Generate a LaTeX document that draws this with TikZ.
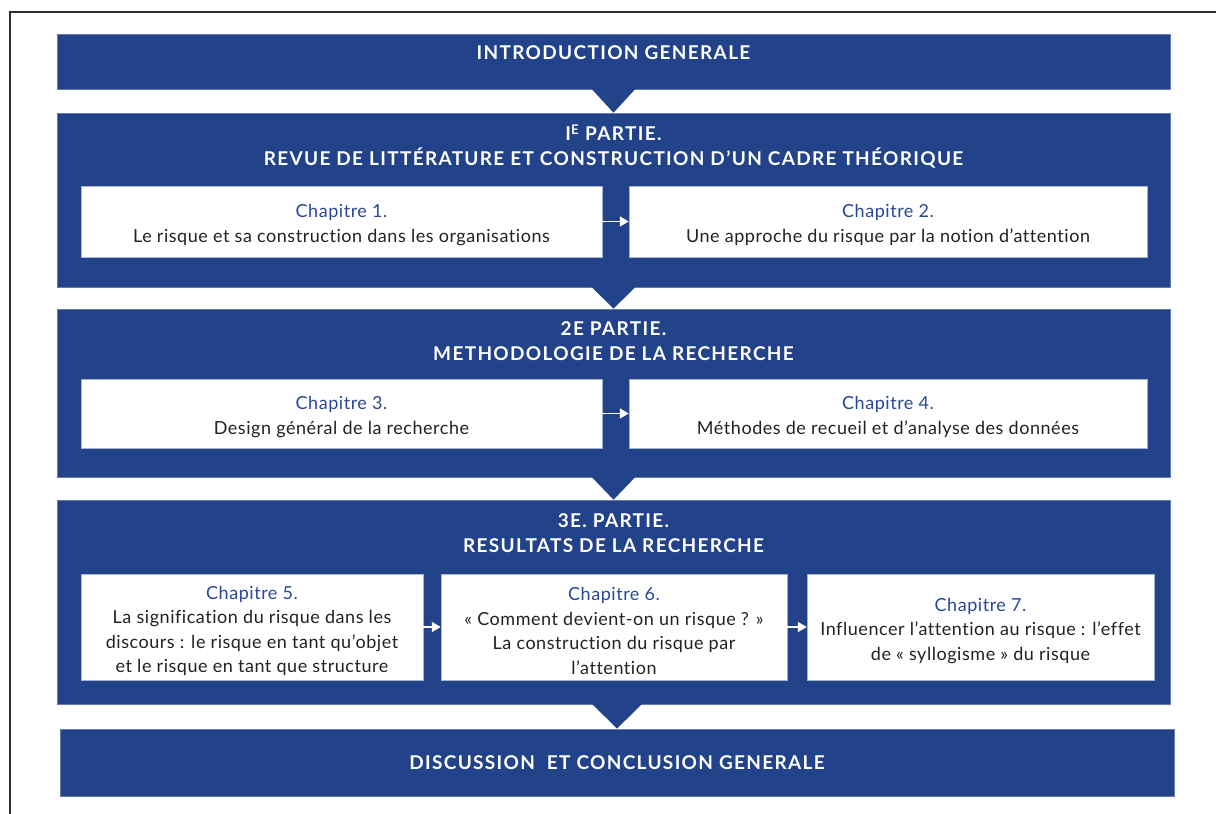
\documentclass[tikz,border=0pt]{standalone}
\usepackage{fontspec}
\setmainfont{Lato}[Ligatures=NoCommon]
\usetikzlibrary{arrows.meta,calc}
\definecolor{dblue}{RGB}{34,67,138}
\definecolor{cblue}{RGB}{42,72,152}
\definecolor{ctext}{RGB}{34,34,34}
\definecolor{frame}{RGB}{45,45,45}
\tikzset{
  bluebox/.style={fill=dblue, draw=dblue!70!white, line width=0.6pt, inner sep=0pt, anchor=center},
  chapbox/.style={fill=white, draw=dblue!40!white, line width=0.5pt, inner sep=0pt, anchor=center},
  chaptext/.style={align=center, text=ctext, inner sep=0pt, anchor=center,
    font=\fontsize{18}{24.5}\selectfont\addfontfeatures{LetterSpace=3}},
  titletext/.style={text=white, align=center, inner sep=0pt, font=\fontsize{19}{25}\selectfont\bfseries\addfontfeatures{LetterSpace=7}},
  wharrow/.style={draw=white, line width=1.7pt, -{Triangle[length=9pt,width=10pt]}},
  notch/.style={fill=dblue, draw=none}
}
\newcommand{\chap}[1]{{\color{cblue}Chapitre #1}}
\begin{document}
\begin{tikzpicture}[x=1pt,y=-1pt]
\useasboundingbox (0,0) rectangle (1216,814);
\fill[white] (0,0) rectangle (1216,814);
% frame
\draw[frame, line width=2pt] (10,814) -- (10,12) -- (1216,12);

% main blocks
\node[bluebox, minimum width=1113pt, minimum height=55pt] (intro) at (613.5,61.5) {};
\node[bluebox, minimum width=1113pt, minimum height=174pt] (part1) at (613.5,200) {};
\node[bluebox, minimum width=1113pt, minimum height=168pt] (part2) at (613.5,393) {};
\node[bluebox, minimum width=1113pt, minimum height=204pt] (part3) at (613.5,602) {};
\node[bluebox, minimum width=1114pt, minimum height=67pt] (concl) at (617,762.5) {};

% notches
\fill[notch] ($(intro.south)+(-22,-0.5)$) -- ($(intro.south)+(22,-0.5)$) -- (intro.south |- part1.north) -- cycle;
\fill[notch] ($(part1.south)+(-22,-0.5)$) -- ($(part1.south)+(22,-0.5)$) -- (part1.south |- part2.north) -- cycle;
\fill[notch] ($(part2.south)+(-22,-0.5)$) -- ($(part2.south)+(22,-0.5)$) -- (part2.south |- part3.north) -- cycle;
\fill[notch] ($(part3.south -| concl.north)+(-25,-0.5)$) -- ($(part3.south -| concl.north)+(25,-0.5)$) -- (concl.north) -- cycle;

% titles
\node[titletext] (tintro) at (613.5,53) {INTRODUCTION GENERALE};
\node[titletext] (tpart1) at (613.5,146.5) {I\textsuperscript{E} PARTIE.\\REVUE DE LITTÉRATURE ET CONSTRUCTION D’UN CADRE THÉORIQUE};
\node[titletext] (tpart2) at (613.5,341.5) {2E PARTIE.\\METHODOLOGIE DE LA RECHERCHE};
\node[titletext] (tpart3) at (613.5,533) {3E. PARTIE.\\RESULTATS DE LA RECHERCHE};
\node[titletext] (tconcl) at (617,763) {DISCUSSION\ \ ET CONCLUSION GENERALE};

% chapter boxes
\node[chapbox, minimum width=521pt, minimum height=71pt] (ch1) at (341.5,221.5) {};
\node[chapbox, minimum width=518pt, minimum height=71pt] (ch2) at (888,221.5) {};
\node[chapbox, minimum width=521pt, minimum height=69pt] (ch3) at (341.5,413.5) {};
\node[chapbox, minimum width=518pt, minimum height=69pt] (ch4) at (888,413.5) {};
\node[chapbox, minimum width=342pt, minimum height=106pt] (ch5) at (252,627) {};
\node[chapbox, minimum width=346pt, minimum height=106pt] (ch6) at (614,627) {};
\node[chapbox, minimum width=347pt, minimum height=106pt] (ch7) at (980.5,627) {};

% chapter texts
\node[chaptext] (ch1t) at ($(ch1.center)+(0,3.5)$)
  {\chap{1.}\\Le risque et sa construction dans les organisations};
\node[chaptext] (ch2t) at ($(ch2.center)+(0,3.5)$)
  {\chap{2.}\\Une approche du risque par la notion d’attention};
\node[chaptext] (ch3t) at ($(ch3.center)+(0,3.5)$)
  {\chap{3.}\\Design général de la recherche};
\node[chaptext] (ch4t) at ($(ch4.center)+(0,3.5)$)
  {\chap{4.}\\Méthodes de recueil et d’analyse des données};
\node[chaptext] (ch5t) at ($(ch5.center)+(0,4)$)
  {\chap{5.}\\La signification du risque dans les\\discours : le risque en tant qu’objet\\et le risque en tant que structure};
\node[chaptext] (ch6t) at ($(ch6.center)+(0,4)$)
  {\chap{6.}\\« Comment devient-on un risque ? »\\La construction du risque par\\l’attention};
\node[chaptext] (ch7t) at ($(ch7.center)+(0,4)$)
  {\chap{7.}\\Influencer l’attention au risque : l’effet\\de « syllogisme » du risque};

% arrows
\draw[wharrow] (ch1.east) -- (ch2.west);
\draw[wharrow] (ch3.east) -- (ch4.west);
\draw[wharrow] (ch5.east) -- (ch6.west);
\draw[wharrow] (ch6.east) -- (ch7.west);
\end{tikzpicture}
\end{document}
